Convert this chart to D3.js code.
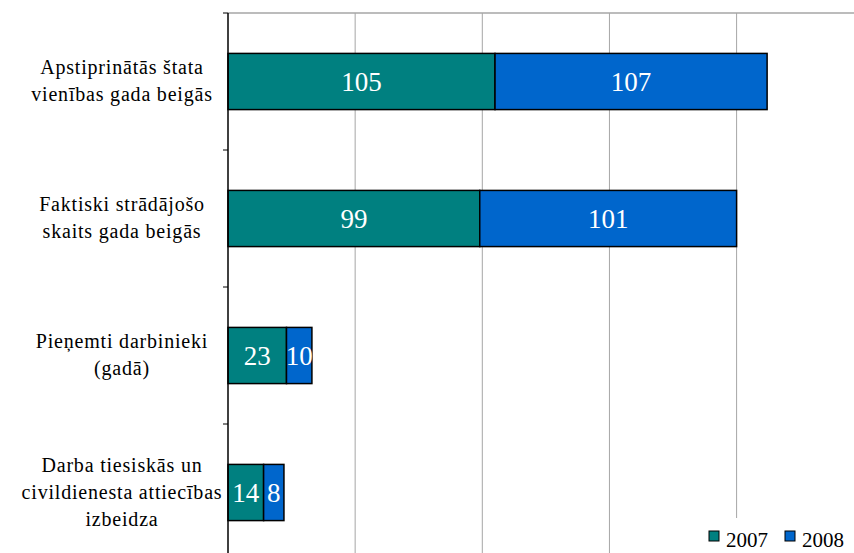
<!DOCTYPE html>
<meta charset="utf-8">
<script src="https://d3js.org/d3.v7.min.js"></script>
<div id="dataviz"></div>
<script>

var categories = [
  ["Apstiprinātās štata", "vienības gada beigās"],
  ["Faktiski strādājošo", "skaits gada beigās"],
  ["Pieņemti darbinieki", "(gadā)"],
  ["Darba tiesiskās un", "civildienesta attiecības", "izbeidza"]
];
var years = ["2007", "2008"];
var values2007 = [105, 99, 23, 14];
var values2008 = [107, 101, 10, 8];
var gridTicks = [0, 50, 100, 150, 200];
var colors = ["#008080", "#0066cc"];

var W = 854, H = 553;
var plotLeft = 228, plotTop = 13, plotBottom = 561;
var fontName = "'Liberation Serif'";

var svg = d3.select("#dataviz")
  .append("svg")
    .attr("width", W)
    .attr("height", H)
    .style("position", "absolute")
    .style("left", "0px")
    .style("top", "0px");

var x = d3.scaleLinear()
  .domain([0, 250])
  .range([plotLeft, plotLeft + 250 * 2.543]);

var y = d3.scaleBand()
  .domain(d3.range(categories.length))
  .range([plotTop, plotBottom])
  .paddingInner(0.59)
  .paddingOuter(0.295);

var step = y.step();

// gridlines
svg.selectAll(".grid")
  .data(gridTicks.slice(1))
  .enter().append("line")
    .attr("x1", function(d) { return x(d) })
    .attr("x2", function(d) { return x(d) })
    .attr("y1", plotTop)
    .attr("y2", H)
    .attr("stroke", "#a6a6a6")
    .attr("stroke-width", 1);

// top border
svg.append("line")
  .attr("x1", plotLeft).attr("x2", W)
  .attr("y1", plotTop).attr("y2", plotTop)
  .attr("stroke", "#a6a6a6")
  .attr("stroke-width", 1.5);

// stacked bars
var series = [values2007, values2008];
categories.forEach(function(c, i) {
  var x0 = 0;
  series.forEach(function(vals, s) {
    var v = vals[i];
    svg.append("rect")
      .attr("x", x(x0))
      .attr("y", y(i))
      .attr("width", x(x0 + v) - x(x0))
      .attr("height", y.bandwidth())
      .attr("fill", colors[s])
      .attr("stroke", "#000")
      .attr("stroke-width", 1.5);
    svg.append("text")
      .attr("x", (x(x0) + x(x0 + v)) / 2)
      .attr("y", y(i) + y.bandwidth() / 2 + 9)
      .attr("text-anchor", "middle")
      .attr("fill", "#fff")
      .attr("font-family", fontName)
      .attr("font-size", 27)
      .text(v);
    x0 += v;
  });
});

// y axis
svg.append("line")
  .attr("x1", plotLeft).attr("x2", plotLeft)
  .attr("y1", plotTop).attr("y2", H)
  .attr("stroke", "#000")
  .attr("stroke-width", 1.5);

svg.selectAll(".ytick")
  .data(d3.range(categories.length + 1))
  .enter().append("line")
    .attr("x1", plotLeft - 5).attr("x2", plotLeft)
    .attr("y1", function(d) { return plotTop + d * step })
    .attr("y2", function(d) { return plotTop + d * step })
    .attr("stroke", "#000")
    .attr("stroke-width", 1);

// category labels, one text per line
categories.forEach(function(lines, i) {
  var cy = y(i) + y.bandwidth() / 2;
  var lh = 27;
  lines.forEach(function(l, k) {
    svg.append("text")
      .attr("x", 122)
      .attr("y", cy + (k - (lines.length - 1) / 2) * lh + 6)
      .attr("text-anchor", "middle")
      .attr("fill", "#000")
      .attr("font-family", fontName)
      .attr("font-size", 20)
      .attr("letter-spacing", 0.8)
      .text(l);
  });
});

// legend
var lg = svg.append("g");
lg.append("rect")
  .attr("x", 703).attr("y", 518)
  .attr("width", 151).attr("height", 35)
  .attr("fill", "#fff");
var lx = [709, 785];
years.forEach(function(yr, s) {
  lg.append("rect")
    .attr("x", lx[s]).attr("y", 531)
    .attr("width", 10).attr("height", 10)
    .attr("fill", colors[s])
    .attr("stroke", "#000")
    .attr("stroke-width", 1);
  lg.append("text")
    .attr("x", lx[s] + 17)
    .attr("y", 547)
    .attr("font-family", fontName)
    .attr("font-size", 21)
    .text(yr);
});

</script>
